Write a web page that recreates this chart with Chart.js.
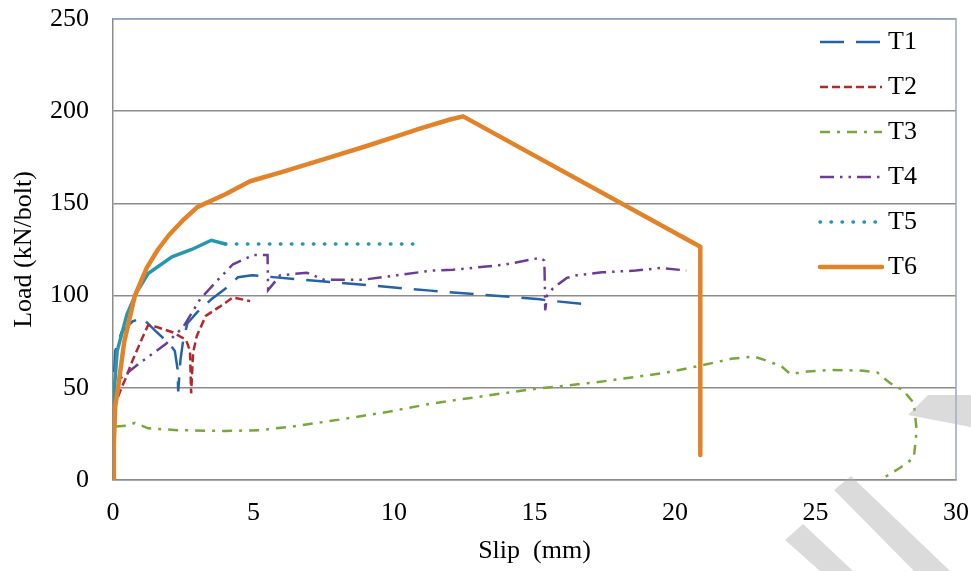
<!DOCTYPE html>
<html>
<head>
<meta charset="utf-8">
<script src="https://cdn.jsdelivr.net/npm/chart.js@4.4.1/dist/chart.umd.min.js"></script>
<style>
  body { margin: 0; background: #fff; }
</style>
</head>
<body>
<canvas id="slip-chart" width="971" height="571"></canvas>
<script>
// data: slip (mm) and load (kN/bolt)
const seriesNames = ['T1', 'T2', 'T3', 'T4', 'T5', 'T6'];

const t1Slip = [0, 0.03, 0.08, 0.3, 0.7, 1.03, 1.5, 2.0, 2.2, 2.3, 2.32, 2.4, 2.5, 2.65, 3.0, 3.5, 4.1, 4.45, 4.95, 11.3, 15.2, 15.4, 16.7];
const t1Load = [0, 55, 70, 80, 86, 88, 81, 74, 70, 60, 48, 65, 76, 85, 91, 98, 105, 110, 111, 102.7, 98, 97.5, 95.5];

const t2Slip = [0, 0.05, 0.3, 0.45, 0.7, 1.07, 1.25, 1.56, 2.14, 2.6, 2.74, 2.78, 2.85, 2.98, 3.3, 3.8, 4.27, 4.88];
const t2Load = [0, 40, 50, 55, 65, 78, 84, 83, 80, 76, 70, 47, 69, 78, 89, 94, 99, 97];

const t3Slip = [0.1, 0.5, 0.78, 1.25, 2.3, 4.0, 5.2, 6.4, 8.0, 9.8, 11.35, 14.8, 17.2, 19.6, 20.9, 22.0, 22.8, 23.4, 23.8, 24.1, 24.7, 25.6, 26.7, 27.2, 27.65, 28.1, 28.5, 28.6, 28.5, 28.0, 27.3];
const t3Load = [29, 29.5, 31, 28, 27, 26.6, 27, 29, 32.6, 37, 41.5, 49, 53, 58, 62, 65.7, 67, 64, 61.5, 57.5, 58.8, 59.7, 59.3, 58.3, 52.6, 48.9, 41.8, 27, 12, 6.5, 0];

const t4Slip = [0, 0.1, 0.25, 1.0, 1.9, 2.5, 3.1, 3.7, 4.27, 5.0, 5.5, 5.52, 5.95, 6.9, 7.5, 8.9, 10.1, 11.3, 12.1, 13.9, 15.2, 15.35, 15.37, 15.38, 15.45, 15.66, 16.15, 16.5, 17.4, 18.6, 19.5, 20.4];
const t4Load = [0, 45, 55, 64, 74, 83, 98, 108, 117, 122, 122, 103, 111, 112.4, 108.6, 108.6, 111, 113.5, 114, 116.7, 120.5, 119, 104, 92, 100, 104, 109.6, 111, 112.6, 113.6, 115, 113.6];

const t5Slip = [0, 0.05, 0.15, 0.5, 0.85, 1.25, 2.1, 2.8, 3.5, 4.0, 10.8];
const t5Load = [0, 50, 70, 90, 102, 112, 121, 125, 130, 128, 128];

const t6Slip = [0, 0.03, 0.08, 0.18, 0.4, 0.78, 1.2, 1.6, 2.0, 2.5, 3.0, 4.0, 4.88, 6.0, 7.72, 9.0, 10.0, 11.0, 12.0, 12.46, 20.9, 20.9];
const t6Load = [0, 20, 40, 50, 75, 100, 115, 125, 133, 141, 148, 155, 162, 167, 175, 181, 186, 191, 195.5, 197.2, 126.5, 13.5];

const xTicks = [0, 5, 10, 15, 20, 25, 30];
const yTicks = [0, 50, 100, 150, 200, 250];

const serif = 'Liberation Serif, Times New Roman, serif';

function pts(xs, ys) {
    return xs.map((x, i) => ({ x: x, y: ys[i] }));
}

// legend drawn inside the plot, top right
const insideLegend = {
    id: 'insideLegend',
    afterDatasetsDraw(chart) {
        const c = chart.ctx;
        const area = chart.chartArea;
        const x0 = area.right - 136, x1 = area.right - 74;
        chart.data.datasets.forEach((ds, i) => {
            const y = 42 + i * 45;
            c.save();
            c.strokeStyle = ds.borderColor;
            c.lineWidth = ds.borderWidth;
            c.lineCap = ds.borderCapStyle || 'butt';
            c.setLineDash(ds.borderDash || []);
            c.beginPath();
            c.moveTo(x0, y);
            c.lineTo(x1, y);
            c.stroke();
            c.restore();
            c.save();
            c.fillStyle = '#000';
            c.font = '26px ' + serif;
            c.textBaseline = 'middle';
            c.fillText(ds.label, x1 + 6, y);
            c.restore();
        });
    }
};

// blue-grey frame on top and right of the plot
const plotFrame = {
    id: 'plotFrame',
    beforeDatasetsDraw(chart) {
        const c = chart.ctx;
        const a = chart.chartArea;
        c.save();
        c.strokeStyle = '#93a8cc';
        c.lineWidth = 1.5;
        c.beginPath();
        c.moveTo(a.left, a.top);
        c.lineTo(a.right, a.top);
        c.lineTo(a.right, a.bottom);
        c.stroke();
        c.restore();
    }
};

// grey diagonal stripes in the bottom right corner of the picture
const stripes = {
    id: 'stripes',
    afterDraw(chart) {
        const c = chart.ctx;
        const shapes = [
            [[785, 540], [803, 524], [853, 571], [820, 571]],
            [[834, 490], [851, 476], [950, 571], [914, 571]],
            [[908, 415], [928, 395], [971, 395], [971, 427]]
        ];
        c.save();
        c.fillStyle = 'rgba(175,175,175,0.45)';
        shapes.forEach(s => {
            c.beginPath();
            c.moveTo(s[0][0], s[0][1]);
            s.slice(1).forEach(p => c.lineTo(p[0], p[1]));
            c.closePath();
            c.fill();
        });
        c.restore();
    }
};

const ctx = document.getElementById('slip-chart');

new Chart(ctx, {
    type: 'scatter',
    data: {
        datasets: [{
            label: seriesNames[0],
            data: pts(t1Slip, t1Load),
            borderColor: '#2463a8',
            borderWidth: 2.5,
            borderDash: [24, 12],
            order: 5
        }, {
            label: seriesNames[1],
            data: pts(t2Slip, t2Load),
            borderColor: '#b3282e',
            borderWidth: 2.5,
            borderDash: [8, 4],
            order: 4
        }, {
            label: seriesNames[2],
            data: pts(t3Slip, t3Load),
            borderColor: '#79a83a',
            borderWidth: 2.5,
            borderDash: [10, 7, 3, 7],
            order: 3
        }, {
            label: seriesNames[3],
            data: pts(t4Slip, t4Load),
            borderColor: '#6b3d99',
            borderWidth: 2.5,
            borderDash: [14, 6, 2.5, 6, 2.5, 6],
            order: 2
        }, {
            label: seriesNames[4],
            data: pts(t5Slip, t5Load),
            borderColor: '#2796ae',
            borderWidth: 3.5,
            borderCapStyle: 'round',
            borderDash: [0.5, 10.5],
            segment: {
                // solid while rising, dotted after the peak
                borderDash: s => s.p1.parsed.x <= 4 ? [] : undefined
            },
            order: 1
        }, {
            label: seriesNames[5],
            data: pts(t6Slip, t6Load),
            borderColor: '#e2832a',
            borderWidth: 4.5,
            borderCapStyle: 'round',
            borderJoinStyle: 'round',
            order: 0
        }]
    },
    options: {
        responsive: false,
        animation: false,
        showLine: true,
        elements: {
            point: { radius: 0, hoverRadius: 0 },
            line: { tension: 0, fill: false }
        },
        layout: {
            padding: { top: 19, right: 15, bottom: 0, left: 0 }
        },
        plugins: {
            legend: { display: false },
            tooltip: { enabled: false }
        },
        scales: {
            x: {
                type: 'linear',
                min: 0,
                max: 30,
                afterBuildTicks: s => { s.ticks = xTicks.map(v => ({ value: v })); },
                afterFit: s => {
                    s.height = 91;
                    s.paddingLeft = 0;
                    s.paddingRight = 0;
                },
                ticks: {
                    color: '#000',
                    font: { family: serif, size: 26 },
                    padding: 18,
                    maxRotation: 0
                },
                grid: { display: false, drawTicks: false },
                border: { color: '#8c8c8c', width: 1.5 },
                title: {
                    display: true,
                    text: 'Slip  (mm)',
                    color: '#000',
                    font: { family: serif, size: 26 },
                    padding: { top: 0, bottom: 4 }
                }
            },
            y: {
                min: 0,
                max: 250,
                afterBuildTicks: s => { s.ticks = yTicks.map(v => ({ value: v })); },
                afterFit: s => {
                    s.width = 113;
                    s.paddingTop = 0;
                    s.paddingBottom = 0;
                },
                ticks: {
                    color: '#000',
                    font: { family: serif, size: 26 },
                    padding: 24
                },
                grid: { color: '#8c8c8c', lineWidth: 1.5, drawTicks: false },
                border: { color: '#8c8c8c', width: 1.5 },
                title: {
                    display: true,
                    text: 'Load (kN/bolt)',
                    color: '#000',
                    font: { family: serif, size: 26 },
                    padding: { top: 9, bottom: 0 }
                }
            }
        }
    },
    plugins: [plotFrame, insideLegend, stripes]
});
</script>
</body>
</html>
